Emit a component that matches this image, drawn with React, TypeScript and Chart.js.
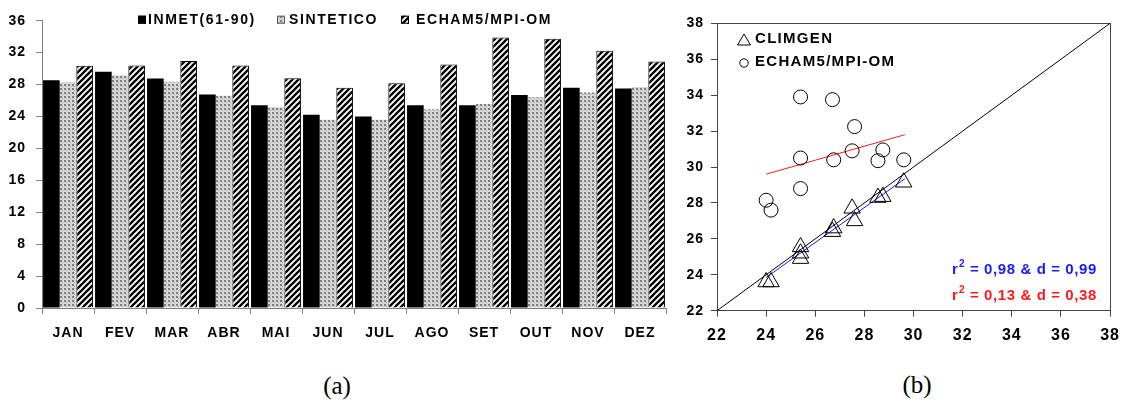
import React, { useEffect, useRef } from 'react';
import { Chart, registerables } from 'chart.js';
Chart.register(...registerables);

// ---------- data ----------
const months = ['JAN', 'FEV', 'MAR', 'ABR', 'MAI', 'JUN', 'JUL', 'AGO', 'SET', 'OUT', 'NOV', 'DEZ'];
const inmet = [28.55, 29.6, 28.75, 26.75, 25.4, 24.2, 24.0, 25.4, 25.4, 26.7, 27.6, 27.5];
const sintetico = [28.3, 29.15, 28.35, 26.6, 25.2, 23.6, 23.6, 24.9, 25.55, 26.4, 27.0, 27.7];
const echam = [30.35, 30.4, 30.95, 30.4, 28.8, 27.6, 28.15, 30.5, 33.9, 33.75, 32.25, 30.9];
const seriesNames = ['INMET(61-90)', 'SINTETICO', 'ECHAM5/MPI-OM'];
const scatterNames = ['CLIMGEN', 'ECHAM5/MPI-OM'];

const barYMin = 0;
const barYMax = 36;
const barYStep = 4;
const scatMin = 22;
const scatMax = 38;
const scatStep = 2;

const oneToOne = [{ x: 22, y: 22 }, { x: 38, y: 38 }];
const fitClimgen = [{ x: 24.0, y: 23.85 }, { x: 29.65, y: 29.35 }];
const fitEcham = [{ x: 24.0, y: 29.6 }, { x: 29.65, y: 31.8 }];
const statsClimgen = ' = 0,98 & d = 0,99';
const statsEcham = ' = 0,13 & d = 0,38';

// ---------- patterns ----------
function makeDots(): CanvasPattern {
  const c = document.createElement('canvas');
  c.width = 4; c.height = 4;
  const g = c.getContext('2d')!;
  g.fillStyle = '#d8d8d8';
  g.fillRect(0, 0, 4, 4);
  g.fillStyle = '#7c7c7c';
  g.fillRect(0, 0, 2, 2);
  g.fillStyle = '#a8a8a8';
  g.fillRect(2, 2, 1, 1);
  return g.createPattern(c, 'repeat')!;
}
function makeHatch(): CanvasPattern {
  const c = document.createElement('canvas');
  c.width = 6; c.height = 6;
  const g = c.getContext('2d')!;
  g.fillStyle = '#fff';
  g.fillRect(0, 0, 6, 6);
  g.strokeStyle = '#000';
  g.lineWidth = 2.3;
  g.beginPath();
  g.moveTo(0, 6); g.lineTo(6, 0);
  g.moveTo(-3, 3); g.lineTo(3, -3);
  g.moveTo(3, 9); g.lineTo(9, 3);
  g.stroke();
  return g.createPattern(c, 'repeat')!;
}

const FONT = 'Liberation Sans, Arial, sans-serif';

export default function App() {
  const refA = useRef<HTMLCanvasElement>(null);
  const refB = useRef<HTMLCanvasElement>(null);

  useEffect(() => {
    const dots = makeDots();
    const hatch = makeHatch();

    const spacing = {
      id: 'spacing',
      beforeDraw(chart: any) {
        chart.ctx.letterSpacing = '1px';
      },
    };

    const legendA = {
      id: 'legendA',
      afterDraw(chart: any) {
        const ctx = chart.ctx as CanvasRenderingContext2D;
        ctx.save();
        (ctx as any).letterSpacing = '1.6px';
        ctx.font = `bold 14px ${FONT}`;
        ctx.textBaseline = 'middle';
        ctx.fillStyle = '#000';
        const y = 19.7;
        const items = [
          { bx: 138, tx: 148, fill: '#000' as any, border: '#000' },
          { bx: 277, tx: 289, fill: dots as any, border: '#555' },
          { bx: 401, tx: 416, fill: hatch as any, border: '#000' },
        ];
        items.forEach((it, i) => {
          ctx.fillStyle = it.fill;
          ctx.fillRect(it.bx, y - 4, 8, 8);
          ctx.strokeStyle = it.border;
          ctx.lineWidth = 1;
          ctx.strokeRect(it.bx + 0.5, y - 3.5, 7, 7);
          ctx.fillStyle = '#000';
          ctx.fillText(seriesNames[i], it.tx, y);
        });
        ctx.restore();
      },
    };

    const tickFont = { family: FONT, weight: 'bold' as const, size: 14 };

    const chartA = new Chart(refA.current!, {
      type: 'bar',
      data: {
        labels: months,
        datasets: [
          { label: seriesNames[0], data: inmet, backgroundColor: '#000', borderWidth: 0 },
          { label: seriesNames[1], data: sintetico, backgroundColor: dots as any, borderWidth: 0 },
          { label: seriesNames[2], data: echam, backgroundColor: hatch as any, borderColor: '#000', borderWidth: 1 },
        ],
      },
      options: {
        responsive: false,
        animation: false,
        events: [],
        layout: { padding: { left: 0, right: 14, top: 20.7, bottom: 0 } },
        datasets: { bar: { categoryPercentage: 0.96, barPercentage: 1 } },
        plugins: { legend: { display: false }, tooltip: { enabled: false } },
        scales: {
          x: {
            offset: true,
            grid: { offset: true, drawOnChartArea: false, drawTicks: true, tickLength: 6, color: '#808080' },
            border: { display: true, color: '#808080', width: 1 },
            ticks: { padding: 11, font: tickFont, color: '#000', maxRotation: 0, autoSkip: false },
            afterFit: (s: any) => { s.height = 52; },
          },
          y: {
            min: barYMin,
            max: barYMax,
            grid: { drawOnChartArea: false, drawTicks: true, tickLength: 6, color: '#808080' },
            border: { display: true, color: '#808080', width: 1 },
            ticks: { stepSize: barYStep, padding: 10, font: tickFont, color: '#000' },
            afterFit: (s: any) => { s.width = 42; },
          },
        },
      },
      plugins: [spacing, legendA],
    });

    const boxB = {
      id: 'boxB',
      beforeDatasetsDraw(chart: any) {
        const ctx = chart.ctx as CanvasRenderingContext2D;
        const a = chart.chartArea;
        ctx.save();
        ctx.strokeStyle = '#444';
        ctx.lineWidth = 1;
        ctx.strokeRect(Math.round(a.left) + 0.5, Math.round(a.top) + 0.5, Math.round(a.right - a.left), Math.round(a.bottom - a.top));
        ctx.restore();
      },
      afterDraw(chart: any) {
        const ctx = chart.ctx as CanvasRenderingContext2D;
        ctx.save();
        ctx.textBaseline = 'middle';
        ctx.fillStyle = '#000';
        (ctx as any).letterSpacing = '1.3px';
        ctx.font = `bold 15px ${FONT}`;
        // legend: triangle
        const lx = 69;
        const y1 = 40, y2 = 63;
        ctx.strokeStyle = '#000';
        ctx.lineWidth = 1;
        ctx.beginPath();
        ctx.moveTo(lx, y1 - 6);
        ctx.lineTo(lx + 6.5, y1 + 5);
        ctx.lineTo(lx - 6.5, y1 + 5);
        ctx.closePath();
        ctx.stroke();
        ctx.fillText(scatterNames[0], 80, y1 - 1);
        ctx.beginPath();
        ctx.arc(lx, y2, 4.2, 0, Math.PI * 2);
        ctx.stroke();
        ctx.fillText(scatterNames[1], 80, y2 - 1);
        // stats
        const drawStats = (x: number, y: number, color: string, txt: string) => {
          ctx.fillStyle = color;
          (ctx as any).letterSpacing = '0.6px';
          ctx.font = `bold 15px ${FONT}`;
          ctx.fillText('r', x, y);
          const w = ctx.measureText('r').width + 0.6;
          ctx.font = `bold 10px ${FONT}`;
          ctx.fillText('2', x + w, y - 6);
          const w2 = ctx.measureText('2').width;
          ctx.font = `bold 15px ${FONT}`;
          ctx.fillText(txt, x + w + w2, y);
        };
        drawStats(277, 270, '#1a1aff', statsClimgen);
        drawStats(277, 296, '#ff1a1a', statsEcham);
        ctx.restore();
      },
    };

    const tickFontX = { family: FONT, weight: 'bold' as const, size: 16 };
    const tickFontY = { family: FONT, weight: 'bold' as const, size: 14 };

    const chartB = new Chart(refB.current!, {
      type: 'scatter',
      data: {
        datasets: [
          {
            label: scatterNames[0],
            data: inmet.map((x, i) => ({ x, y: sintetico[i] })),
            pointStyle: 'triangle',
            pointRadius: 9.5,
            borderColor: '#000',
            backgroundColor: 'rgba(0,0,0,0)',
            borderWidth: 1,
          },
          {
            label: scatterNames[1],
            data: inmet.map((x, i) => ({ x, y: echam[i] })),
            pointStyle: 'circle',
            pointRadius: 7,
            borderColor: '#000',
            backgroundColor: 'rgba(0,0,0,0)',
            borderWidth: 1,
          },
          { label: '1:1', data: oneToOne, showLine: true, borderColor: '#000', borderWidth: 1, pointRadius: 0 },
          { label: 'fit CLIMGEN', data: fitClimgen, showLine: true, borderColor: '#1a1aff', borderWidth: 1, pointRadius: 0 },
          { label: 'fit ECHAM', data: fitEcham, showLine: true, borderColor: '#ff1a1a', borderWidth: 1, pointRadius: 0 },
        ],
      },
      options: {
        responsive: false,
        animation: false,
        events: [],
        layout: { padding: { left: 0, right: 15.3, top: 23.3, bottom: 0 } },
        plugins: { legend: { display: false }, tooltip: { enabled: false } },
        scales: {
          x: {
            type: 'linear',
            min: scatMin,
            max: scatMax,
            grid: { drawOnChartArea: false, drawTicks: true, tickLength: 6, color: '#444' },
            border: { display: true, color: '#444', width: 1 },
            ticks: { stepSize: scatStep, padding: 9, font: tickFontX, color: '#000' },
            afterFit: (s: any) => { s.height = 49.3; },
          },
          y: {
            type: 'linear',
            min: scatMin,
            max: scatMax,
            grid: { drawOnChartArea: false, drawTicks: true, tickLength: 6, color: '#444' },
            border: { display: true, color: '#444', width: 1 },
            ticks: { stepSize: scatStep, padding: 7, font: tickFontY, color: '#000' },
            afterFit: (s: any) => { s.width = 42; },
          },
        },
      },
      plugins: [spacing, boxB],
    });

    return () => {
      chartA.destroy();
      chartB.destroy();
    };
  }, []);

  const labelStyle: React.CSSProperties = {
    position: 'absolute',
    transform: 'translate(-50%, -50%)',
    fontFamily: '"Liberation Serif", "Times New Roman", serif',
    fontSize: 25,
    lineHeight: 1,
    color: '#000',
  };

  return (
    <div style={{ position: 'absolute', left: 0, top: 0, width: 1128, height: 401, background: '#fff', overflow: 'hidden' }}>
      <canvas ref={refA} width={680} height={360} style={{ position: 'absolute', left: 0, top: 0, width: 680, height: 360 }} />
      <canvas ref={refB} width={453} height={360} style={{ position: 'absolute', left: 675, top: 0, width: 453, height: 360 }} />
      <div style={{ ...labelStyle, left: 337, top: 385 }}>(a)</div>
      <div style={{ ...labelStyle, left: 917, top: 384 }}>(b)</div>
    </div>
  );
}
